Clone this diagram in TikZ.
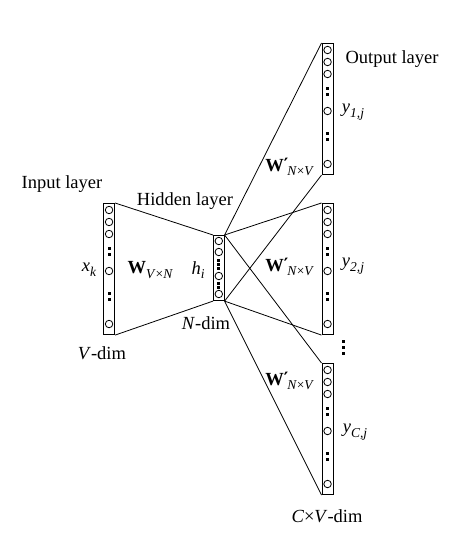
\documentclass[tikz,border=0pt]{standalone}
\usepackage{fontspec}
\setmainfont{Liberation Serif}
\newfontfamily\dvs{DejaVu Serif}
\newcommand\lsub[1]{\raisebox{-4.5pt}{\fontsize{13.5}{14}\selectfont\itshape #1}}
\newcommand\wprime{\raisebox{1pt}{\bfseries\fontsize{17}{17}\selectfont\dvs\char"2032}}
\begin{document}
\begin{tikzpicture}[x=1pt,y=-1pt,
  layerbox/.style={draw, line width=1.1pt, minimum width=11pt, inner sep=0pt, fill=white, anchor=north west},
  unit/.style={draw, circle, line width=0.8pt, minimum size=7.5pt, inner sep=0pt},
  dotsq/.style={fill, minimum size=3pt, inner sep=0pt},
  lbl/.style={font=\fontsize{18.5}{20}\selectfont, inner sep=0pt},
  conn/.style={line width=0.8pt}]
\useasboundingbox (0,0) rectangle (475,540);
% layer boxes
\node[layerbox, minimum height=131pt] (in) at (103,203) {};
\node[layerbox, minimum height=65pt, minimum width=10.5pt] (hid) at (213,235) {};
\node[layerbox, minimum height=131pt] (o1) at (321.5,43) {};
\node[layerbox, minimum height=131pt] (o2) at (321.5,203) {};
\node[layerbox, minimum height=131pt] (o3) at (321.5,363) {};
% connectors
\draw[conn] (in.north east) -- (hid.north west);
\draw[conn] (in.south east) -- (hid.south west);
\foreach \b in {o1,o2,o3}{
  \draw[conn] (hid.north east) -- (\b.north west);
  \draw[conn] (hid.south east) -- (\b.south west);
}
% units in big boxes
\foreach \b in {in,o1,o2,o3}{
  \foreach \o in {7,19,31,68,121}{\path (\b.north) ++(0,\o) node[unit]{};}
  \foreach \o in {45.5,51.5,90.5,96.5}{\path (\b.north) ++(0,\o) node[dotsq]{};}
}
% units in hidden box
\foreach \o in {6,17,41,59}{\path (hid.north) ++(0,\o) node[unit]{};}
\foreach \o in {25.5,29.5,33.5,48.5,52.5}{\path (hid.north) ++(0,\o) node[dotsq]{};}
% dots between output 2 and 3
\foreach \y in {341,347,353}{\node[dotsq] at (343,\y) {};}
% labels
\node[lbl] (lin) at (62,184) {Input layer};
\node[lbl] (lhid) at (185,201) {Hidden layer};
\node[lbl] (lout) at (392,59) {Output layer};
\node[lbl] (xk) at (89,270) {\textit{x}\lsub{k}};
\node[lbl] (w) at (150,270) {\textbf{W}\lsub{V\textup{×}N}};
\node[lbl] (hi) at (198,270) {\textit{h}\lsub{i}};
\node[lbl] (ndim) at (206,323) {\textit{N}-dim};
\node[lbl] (vdim) at (102,353) {\textit{V}-dim};
\node[lbl] (w1) at (289,167) {\textbf{W}\wprime\kern-1pt\lsub{N\textup{×}V}};
\node[lbl] (w2) at (289,267) {\textbf{W}\wprime\kern-1pt\lsub{N\textup{×}V}};
\node[lbl] (w3) at (289,381) {\textbf{W}\wprime\kern-1pt\lsub{N\textup{×}V}};
\node[lbl] (y1) at (353,112) {\textit{y}\lsub{1,j}};
\node[lbl] (y2) at (353,266) {\textit{y}\lsub{2,j}};
\node[lbl] (y3) at (355,432) {\textit{y}\lsub{C,j}};
\node[lbl] (cvdim) at (327,516) {\textit{C}×\textit{V}-dim};
\end{tikzpicture}
\end{document}
